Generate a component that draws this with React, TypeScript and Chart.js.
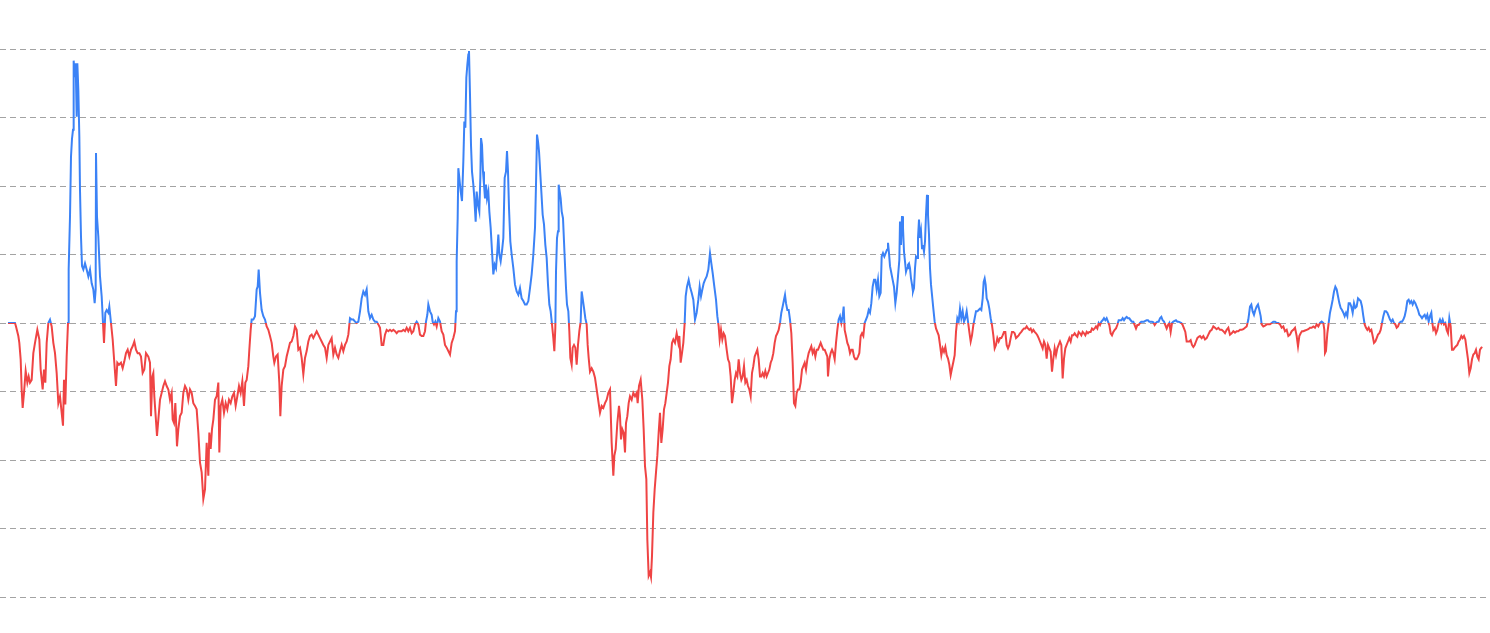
import React, { useEffect, useRef } from "react";
import { Chart, registerables } from "chart.js";

Chart.register(...registerables);

// Each pair: [session index, change vs. start (%)]
const period1: [number, number][] = [
  [24,0],[45,0],[48,-0.5],[55,-1.9],[58,-2.9],[62,-5.3],[65,-9.7],[68,-12.4],[72,-10.2],[77,-7.0],[82,-8.7],[86,-7.8],[90,-8.7],[95,-8.3],[100,-4.4],[105,-2.9],[112,-1.0],[118,-2.4],[122,-6.8],[128,-9.7],[132,-6.8],[136,-8.7],[140,-2.9],[145,0],[150,0.5],[155,-0.5],[160,-2.9],[165,-4.4],[170,-7.3],[175,-11.7],[180,-10.7],[185,-13.1],[189,-15.0],[192,-8.3],[196,-11.9],[200,-4.9],[204,0],[206,7.8],[210,15.5],[213,24.3],[216,26.9],[219,28.2],[221,38.3],[224,35.9],[227,37.9],[230,30.1],[232,37.9],[235,34.0],[238,27.2],[240,19.4],[243,12.6],[246,8.3],[250,7.8],[255,8.7],[260,7.8],[265,6.8],[270,7.8],[275,5.8],[280,4.9],[284,2.9],[287,4.9],[288,24.8],[291,15.5],[295,12.6],[300,6.8],[305,3.9],[308,1.0],[312,-2.9],[316,1.5],[320,1.9],[325,1.5],[328,2.4],[333,0],[338,-2.4],[343,-5.8],[348,-9.2],[352,-5.8],[357,-6.1],[363,-5.8],[368,-6.6],[373,-5.6],[378,-4.4],[383,-3.9],[388,-4.9],[393,-3.9],[398,-3.4],[403,-2.7],[408,-3.9],[413,-4.4],[418,-4.4],[423,-4.9],[428,-7.3],[433,-6.8],[438,-4.4],[445,-4.9],[450,-5.8],[453,-13.6],[457,-7.8],[460,-7.3],[463,-10.7],[467,-13.6],[471,-16.5],[475,-14.1],[480,-11.2],[485,-10.2],[490,-9.2],[495,-8.5],[500,-9.2],[505,-9.7],[510,-11.2],[515,-10.2],[518,-14.1],[522,-14.6],[526,-11.7],[531,-18.0],[535,-15.5],[540,-13.6],[545,-13.1],[550,-10.2],[555,-9.2],[560,-9.7],[565,-11.2],[570,-9.7],[575,-10.2],[580,-11.7],[585,-12.1],[590,-12.6],[595,-16.0],[600,-20.4],[605,-21.8],[610,-25.7],[615,-24.3],[620,-17.5],[625,-22.3],[628,-16.0],[632,-18.4],[636,-15.5],[640,-14.1],[645,-11.2],[650,-10.7],[655,-8.7],[658,-18.9],[662,-12.1],[667,-11.2],[672,-13.1],[677,-11.7],[682,-12.6],[687,-11.2],[692,-11.7],[697,-10.7],[702,-10.2],[707,-12.1],[712,-10.7],[717,-9.2],[722,-10.2],[727,-8.5],[732,-12.1],[736,-8.7],[740,-8.3],[745,-6.3],[748,-3.9],[752,-1.0],[755,0.5],[760,0.5],[765,1.0],[770,4.9],[773,5.3],[776,7.8],[780,4.4],[785,1.9],[790,1.0],[795,0.5],[800,-0.5],[805,-1.0],[810,-1.9],[815,-2.9],[820,-4.9],[823,-5.8],[828,-4.9],[833,-4.6],[838,-8.7],[841,-13.6],[845,-9.2],[850,-6.8],[855,-6.3],[860,-4.9],[865,-3.9],[870,-2.9],[875,-2.7],[880,-1.9],[885,-0.5],[890,-1.0],[895,-3.9],
];

const period2: [number, number][] = [
  [900,-3.6],[905,-5.1],[910,-7.5],[915,-5.1],[920,-4.1],[925,-2.7],[930,-1.9],[935,-1.7],[940,-2.2],[945,-1.7],[950,-1.2],[955,-1.7],[960,-2.2],[965,-2.7],[970,-3.2],[975,-3.6],[980,-5.1],[985,-3.2],[990,-2.7],[995,-2.2],[1000,-4.6],[1005,-3.6],[1010,-4.6],[1015,-5.1],[1020,-4.1],[1025,-3.2],[1030,-4.1],[1035,-3.2],[1040,-2.7],[1045,-1.7],[1050,0.7],[1055,0.5],[1060,0.5],[1065,0.2],[1070,0],[1075,0.2],[1080,1.7],[1085,3.6],[1090,4.6],[1095,4.1],[1100,4.9],[1105,1.7],[1110,0.7],[1115,1.2],[1120,0.5],[1125,0.2],[1130,0.2],[1135,-0.2],[1140,-0.7],[1145,-3.2],[1150,-3.2],[1155,-1.7],[1160,-1.0],[1165,-1.2],[1170,-1.0],[1175,-1.2],[1180,-1.0],[1185,-1.2],[1190,-1.5],[1195,-1.2],[1200,-1.2],[1205,-1.2],[1210,-1.0],[1215,-1.2],[1220,-0.7],[1225,-1.2],[1230,-0.7],[1235,-1.5],[1240,-1.2],[1245,-0.2],[1250,0.2],[1255,-0.2],[1260,-1.7],[1265,-1.9],[1270,-1.9],[1275,-1.2],[1278,0.2],[1282,1.2],[1285,2.7],[1290,1.7],[1295,1.2],[1298,0.2],[1302,-0.2],[1306,0.2],[1310,-0.5],[1315,0.7],[1320,0.2],[1325,-1.2],[1330,-1.7],[1335,-3.2],[1340,-3.6],[1345,-4.1],[1350,-4.6],[1355,-2.9],[1360,-2.2],[1365,-1.2],[1368,1.7],[1370,9.0],[1373,15.3],[1375,22.6],[1378,21.2],[1382,19.2],[1386,17.8],[1390,23.6],[1393,29.4],[1396,28.5],[1399,35.8],[1402,37.7],[1405,39.2],[1407,39.7],[1410,33.3],[1413,26.0],[1416,22.1],[1420,20.2],[1423,18.2],[1427,14.8],[1430,19.2],[1434,17.3],[1438,16.3],[1441,21.2],[1443,27.0],[1446,26.0],[1449,22.1],[1452,20.2],[1455,18.2],[1458,20.2],[1461,18.2],[1465,19.2],[1468,16.3],[1472,13.9],[1476,10.5],[1480,7.1],[1484,8.5],[1488,8.0],[1492,10.5],[1495,12.9],[1498,10.0],[1502,9.0],[1506,10.5],[1510,12.4],[1514,21.2],[1518,22.1],[1521,25.1],[1524,22.1],[1527,16.8],[1531,11.9],[1535,10.0],[1540,8.0],[1545,5.6],[1550,4.6],[1555,4.1],[1560,5.1],[1565,3.6],[1570,3.2],[1575,2.7],[1580,2.7],[1585,3.2],[1590,5.1],[1595,7.1],[1600,10.0],[1605,13.9],[1608,20.2],[1611,27.5],[1614,26.5],[1617,25.1],[1620,22.6],[1624,19.2],[1628,15.8],[1632,14.4],[1636,11.4],[1640,9.5],[1644,5.6],[1648,2.7],[1652,1.7],[1656,-0.2],[1660,-2.2],[1663,-4.1],[1666,-0.7],[1668,7.5],[1671,12.4],[1674,13.4],[1676,20.2],[1679,19.2],[1682,18.2],[1685,16.3],[1689,15.3],[1692,11.9],[1695,8.5],[1698,5.1],[1701,2.7],[1705,1.7],[1708,-1.2],[1711,-5.1],[1715,-6.1],[1718,-3.6],[1722,-3.2],[1726,-3.6],[1730,-6.1],[1734,-3.2],[1738,-1.2],[1742,0.2],[1745,4.6],[1748,3.6],[1752,2.2],[1756,0.7],[1760,-0.2],[1763,-3.2],[1766,-5.1],[1770,-7.1],[1775,-6.6],[1780,-7.1],[1785,-8.0],
];

const period3: [number, number][] = [
  [1800,-13.1],[1805,-12.1],[1810,-12.4],[1815,-11.7],[1820,-11.2],[1825,-10.2],[1830,-9.7],[1835,-17.5],[1840,-22.3],[1843,-19.4],[1847,-18.4],[1852,-14.6],[1857,-12.1],[1860,-13.6],[1863,-17.0],[1867,-15.5],[1871,-16.0],[1875,-18.9],[1878,-14.6],[1882,-13.6],[1886,-11.7],[1890,-10.7],[1895,-11.2],[1900,-10.2],[1905,-10.7],[1910,-10.2],[1913,-11.7],[1917,-9.2],[1922,-8.3],[1927,-11.2],[1931,-15.5],[1935,-20.9],[1939,-22.8],[1942,-31.6],[1946,-36.9],[1950,-36.4],[1953,-37.1],[1956,-34.0],[1960,-27.7],[1964,-24.3],[1968,-21.8],[1972,-19.4],[1976,-16.0],[1980,-13.1],[1984,-17.5],[1988,-15.5],[1992,-12.6],[1996,-11.7],[2000,-10.2],[2004,-8.7],[2008,-6.3],[2012,-5.3],[2016,-2.9],[2020,-2.4],[2025,-2.9],[2030,-1.5],[2035,-2.9],[2038,-1.9],[2042,-5.8],[2046,-4.4],[2050,-2.9],[2054,0],[2057,3.9],[2061,5.3],[2066,6.3],[2070,5.3],[2075,4.4],[2080,3.4],[2085,0.5],[2090,1.5],[2095,3.4],[2099,5.3],[2103,3.9],[2107,4.9],[2111,5.8],[2115,6.3],[2120,6.8],[2125,7.8],[2130,10.2],[2134,8.7],[2138,7.3],[2143,5.3],[2148,3.4],[2152,1.0],[2156,-0.5],[2159,-2.4],[2163,-1.0],[2167,-2.4],[2171,-1.5],[2175,-1.9],[2180,-3.9],[2184,-5.3],[2188,-5.8],[2192,-7.8],[2196,-11.7],[2200,-10.2],[2204,-8.3],[2208,-7.3],[2212,-7.8],[2216,-5.3],[2220,-7.3],[2224,-8.3],[2228,-7.8],[2232,-6.3],[2236,-8.7],[2240,-8.3],[2244,-9.2],[2248,-9.7],[2252,-10.7],[2256,-7.3],[2260,-6.3],[2264,-4.9],[2268,-4.4],[2272,-3.9],[2276,-5.3],[2280,-7.8],[2284,-7.8],[2288,-7.3],[2292,-7.8],[2296,-7.0],[2300,-7.8],[2304,-7.3],[2308,-6.8],[2312,-5.8],[2316,-5.3],[2320,-4.4],[2324,-2.9],[2328,-1.9],[2332,-1.5],[2336,-1.0],[2340,0],[2344,1.5],[2348,2.4],[2352,3.4],[2355,4.1],[2358,2.9],[2362,1.9],[2366,1.9],[2370,0.5],[2374,-1.5],[2378,-5.8],[2382,-11.7],[2386,-12.1],[2390,-10.2],[2394,-9.7],[2398,-9.7],[2402,-8.7],[2406,-6.8],[2410,-6.3],[2414,-5.8],[2418,-6.8],[2422,-5.3],[2426,-4.4],[2430,-3.9],[2434,-3.4],[2438,-4.4],[2442,-3.9],[2446,-4.9],[2450,-3.9],[2454,-3.9],[2458,-3.4],[2462,-2.9],[2466,-3.4],[2470,-3.9],[2474,-3.9],[2478,-4.4],[2482,-4.9],[2484,-7.8],[2488,-5.3],[2492,-4.4],[2496,-3.9],[2500,-4.4],[2504,-5.3],[2508,-2.9],[2512,-1.0],[2516,0.5],[2520,1.0],[2524,0],[2528,1.0],[2531,2.4],[2534,-1.0],[2538,-1.9],[2542,-2.9],[2546,-3.4],[2550,-4.4],[2554,-3.9],[2558,-3.9],[2562,-4.9],[2566,-5.3],[2570,-5.3],[2574,-4.9],[2578,-4.4],[2582,-1.9],[2586,-1.5],[2590,-1.9],[2594,0],[2598,0.5],[2602,1.0],[2606,1.9],[2610,1.5],[2614,2.9],[2618,5.3],[2622,6.3],[2626,6.3],[2630,4.9],[2634,6.3],[2638,3.9],[2642,4.4],[2645,9.7],[2649,10.2],[2653,9.7],[2657,10.2],[2661,10.7],[2664,11.7],[2667,10.2],[2670,8.3],[2674,7.3],[2678,6.3],[2682,5.3],[2686,2.9],[2690,4.4],[2694,6.8],[2698,9.2],
];

const period4: [number, number][] = [
  [2700,14.8],[2703,11.4],[2706,15.6],[2709,13.9],[2712,10.4],[2715,9.0],[2718,7.5],[2721,8.0],[2724,8.5],[2727,8.7],[2730,8.0],[2733,6.5],[2736,5.6],[2739,4.6],[2742,5.1],[2745,8.0],[2748,9.7],[2751,9.5],[2754,12.4],[2757,15.1],[2760,12.4],[2763,13.4],[2766,10.9],[2769,11.4],[2772,10.4],[2775,11.9],[2778,15.8],[2781,18.7],[2784,15.8],[2787,12.9],[2790,8.0],[2793,5.6],[2796,4.1],[2800,2.1],[2804,0.2],[2808,-0.8],[2812,-1.3],[2816,-1.8],[2820,-3.2],[2824,-4.7],[2828,-3.7],[2832,-4.2],[2836,-3.5],[2840,-4.7],[2844,-5.2],[2848,-6.1],[2852,-7.6],[2856,-6.6],[2860,-5.7],[2864,-4.7],[2868,-1.3],[2872,0.7],[2876,0.2],[2880,2.1],[2884,0.7],[2888,1.7],[2892,0.2],[2896,0.7],[2900,1.7],[2904,0.2],[2908,-1.3],[2912,-2.7],[2916,-1.8],[2920,-0.3],[2924,0.7],[2928,1.7],[2932,1.7],[2936,1.9],[2940,2.1],[2944,1.9],[2948,3.6],[2951,6.0],[2954,6.5],[2957,5.6],[2960,3.6],[2964,3.1],[2968,2.1],[2972,0.7],[2976,-0.3],[2980,-1.8],[2984,-3.7],[2988,-3.2],[2992,-2.2],[2996,-2.7],[3000,-2.2],[3004,-2.2],[3008,-1.8],[3012,-1.3],[3016,-1.3],[3020,-3.2],[3024,-3.7],[3028,-3.2],[3032,-2.2],[3036,-1.3],[3040,-1.3],[3044,-1.5],[3048,-2.2],[3052,-2.0],[3056,-1.8],[3060,-1.5],[3064,-1.3],[3068,-1.0],[3072,-0.8],[3076,-0.8],[3080,-0.5],[3084,-0.8],[3088,-1.0],[3092,-0.8],[3096,-1.3],[3100,-1.0],[3104,-1.3],[3108,-1.5],[3112,-1.8],[3116,-2.2],[3120,-2.7],[3124,-3.2],[3128,-3.7],[3132,-2.7],[3136,-3.2],[3140,-5.2],[3144,-3.2],[3148,-3.7],[3152,-4.2],[3156,-7.1],[3160,-5.2],[3164,-3.7],[3168,-4.7],[3172,-3.7],[3176,-3.2],[3180,-2.7],[3184,-3.2],[3188,-8.1],[3192,-5.2],[3196,-3.7],[3200,-3.2],[3204,-2.7],[3208,-2.2],[3212,-2.7],[3216,-1.8],[3220,-1.8],[3224,-1.5],[3228,-1.8],[3232,-2.0],[3236,-1.3],[3240,-1.5],[3244,-1.8],[3248,-1.3],[3252,-1.5],[3256,-1.8],[3260,-1.3],[3264,-1.5],[3268,-1.3],[3272,-1.3],[3276,-0.8],[3280,-1.0],[3284,-0.8],[3288,-0.5],[3292,-0.8],[3296,0],[3300,-0.3],[3304,0.2],[3308,0.4],[3312,0.7],[3316,0.4],[3320,0.7],[3324,0.2],[3328,-0.3],[3332,-1.5],[3336,-1.8],[3340,-1.3],[3344,-1.0],[3348,-0.8],[3352,-0.3],[3356,0.4],[3360,0.4],[3364,0.4],[3368,0.7],[3372,0.4],[3376,0.7],[3380,0.9],[3384,0.7],[3388,0.7],[3392,0.4],[3396,0.2],[3400,0.2],[3404,-0.3],[3408,-0.8],[3412,-0.3],[3416,-0.3],[3420,0],[3424,0.2],[3428,0.2],[3432,0.2],[3436,0.3],[3440,0.4],[3444,0.4],[3448,0.2],[3452,0.2],[3456,0.2],[3460,0.1],[3464,-0.3],[3468,0],[3472,0.2],[3476,0.2],[3480,0.7],[3484,0.9],[3488,0.4],[3492,0.2],[3496,-0.3],[3500,-0.8],[3504,-0.3],[3508,0],[3512,-1.3],[3516,0],[3520,0.2],[3524,0.3],[3528,0.4],[3532,0.2],[3536,0.2],[3540,0.1],[3544,0],[3548,-0.3],[3552,-0.8],[3556,-1.3],[3560,-2.7],[3564,-2.7],[3568,-2.7],[3572,-2.5],[3576,-3.2],[3580,-3.5],[3584,-3.2],[3588,-2.7],[3592,-2.2],[3596,-2.0],
];

const period5: [number, number][] = [
  [3600,-1.9],[3605,-2.2],[3610,-1.9],[3615,-2.4],[3620,-2.2],[3625,-1.7],[3630,-1.2],[3635,-1.0],[3640,-0.5],[3645,-0.7],[3650,-0.9],[3655,-0.7],[3660,-1.0],[3665,-1.0],[3670,-1.2],[3675,-1.5],[3680,-1.0],[3685,-0.7],[3690,-1.7],[3695,-1.5],[3700,-1.2],[3705,-1.4],[3710,-1.2],[3715,-1.2],[3720,-1.0],[3725,-1.0],[3730,-0.9],[3735,-0.7],[3740,-0.5],[3745,0.5],[3750,2.4],[3754,2.7],[3758,1.7],[3762,1.2],[3766,1.9],[3770,2.4],[3774,2.7],[3778,1.9],[3782,1.0],[3785,-0.2],[3790,-0.5],[3795,-0.4],[3800,-0.2],[3805,-0.2],[3810,-0.2],[3815,0],[3820,0.2],[3825,0.2],[3830,0],[3835,0],[3840,-0.2],[3845,-0.7],[3850,-0.5],[3855,-1.2],[3860,-1.0],[3865,-1.9],[3870,-1.7],[3875,-1.2],[3880,-1.0],[3885,-0.7],[3890,-1.9],[3894,-3.4],[3898,-1.9],[3902,-1.5],[3906,-1.2],[3910,-1.2],[3915,-1.1],[3920,-1.0],[3925,-0.9],[3930,-0.7],[3935,-0.7],[3940,-0.5],[3945,-0.7],[3950,-0.2],[3955,-0.5],[3960,0],[3965,0.2],[3970,0],[3973,-1.0],[3975,-4.4],[3978,-4.1],[3982,-1.5],[3986,0],[3990,1.5],[3994,2.4],[3998,3.4],[4002,4.6],[4006,5.3],[4010,4.9],[4014,3.9],[4018,2.9],[4022,2.2],[4026,1.9],[4030,1.5],[4034,1.0],[4038,1.5],[4042,1.0],[4046,2.9],[4050,2.9],[4054,2.4],[4058,1.5],[4062,2.9],[4066,2.2],[4070,2.4],[4074,3.6],[4078,3.4],[4082,3.2],[4086,2.4],[4090,1.0],[4094,-0.2],[4098,-0.7],[4102,-1.0],[4106,-0.7],[4110,-1.2],[4114,-1.0],[4118,-1.9],[4122,-2.9],[4126,-2.7],[4130,-2.2],[4134,-1.7],[4138,-1.5],[4142,-1.0],[4146,0],[4150,1.0],[4154,1.7],[4158,1.7],[4162,1.5],[4166,1.0],[4170,0.5],[4174,0.2],[4178,0.5],[4182,0],[4186,-0.2],[4190,-0.7],[4194,-0.5],[4198,0],[4202,0.2],[4206,0.2],[4210,0.5],[4214,1.0],[4218,1.9],[4222,3.2],[4226,3.4],[4230,2.9],[4234,3.2],[4238,2.7],[4242,3.2],[4246,2.9],[4250,2.4],[4254,1.9],[4258,1.2],[4262,1.0],[4266,0.7],[4270,1.0],[4274,1.2],[4278,0.7],[4282,1.2],[4286,0.2],[4290,1.0],[4294,1.5],[4297,0],[4300,-1.0],[4304,-0.7],[4308,-1.5],[4312,-1.0],[4316,0],[4320,0.5],[4324,0],[4328,0.5],[4332,-0.2],[4336,0],[4340,-1.0],[4344,-1.5],[4348,0.7],[4352,-0.5],[4356,-3.9],[4360,-3.9],[4364,-3.6],[4368,-3.4],[4372,-3.2],[4376,-2.7],[4380,-2.4],[4384,-1.9],[4388,-2.2],[4392,-1.9],[4396,-2.4],[4400,-3.9],[4404,-5.3],[4408,-7.3],[4412,-6.6],[4416,-5.3],[4420,-4.6],[4424,-4.4],[4428,-3.9],[4432,-4.9],[4436,-5.3],[4440,-3.9],[4444,-3.6],[4447,-3.5],
];

const Y_MIN = -40;
const Y_MAX = 40;
const Y_STEP = 10;
const X_MIN = 0;
const X_MAX = 4461;

const UP_COLOR = "#3b82f6";
const DOWN_COLOR = "#ef4444";
const GRID_COLOR = "#a3a3a3";

export default function App() {
  const canvasRef = useRef<HTMLCanvasElement | null>(null);

  useEffect(() => {
    const canvas = canvasRef.current;
    if (!canvas) return;
    const points = [...period1, ...period2, ...period3, ...period4, ...period5].map(([x, y]) => ({ x, y }));

    const chart = new Chart(canvas, {
      type: "line",
      data: {
        datasets: [
          {
            data: points,
            borderWidth: 2,
            pointRadius: 0,
            pointHoverRadius: 0,
            tension: 0,
            fill: false,
            borderColor: (ctx: any) => {
              const c = ctx.chart;
              const area = c.chartArea;
              if (!area || !c.scales || !c.scales.y) return UP_COLOR;
              const y0 = c.scales.y.getPixelForValue(0);
              const g = c.ctx.createLinearGradient(0, area.top, 0, area.bottom);
              const s = Math.min(1, Math.max(0, (y0 - area.top) / (area.bottom - area.top)));
              g.addColorStop(0, UP_COLOR);
              g.addColorStop(s, UP_COLOR);
              g.addColorStop(s, DOWN_COLOR);
              g.addColorStop(1, DOWN_COLOR);
              return g;
            },
          },
        ],
      },
      options: {
        responsive: false,
        animation: false,
        layout: { padding: { top: 49, bottom: 36, left: 0, right: 3 } },
        plugins: {
          legend: { display: false },
          tooltip: { enabled: false },
        },
        scales: {
          x: { type: "linear", display: false, min: X_MIN, max: X_MAX },
          y: {
            type: "linear",
            min: Y_MIN,
            max: Y_MAX,
            ticks: { display: false, stepSize: Y_STEP },
            grid: { color: GRID_COLOR, drawTicks: false, lineWidth: 1 },
            border: { display: false, dash: [6, 4] },
          },
        },
      },
    });

    return () => chart.destroy();
  }, []);

  return (
    <div style={{ position: "absolute", left: 0, top: 0, width: 1490, height: 633, background: "#ffffff" }}>
      <canvas ref={canvasRef} width={1490} height={633} style={{ display: "block" }} />
    </div>
  );
}
